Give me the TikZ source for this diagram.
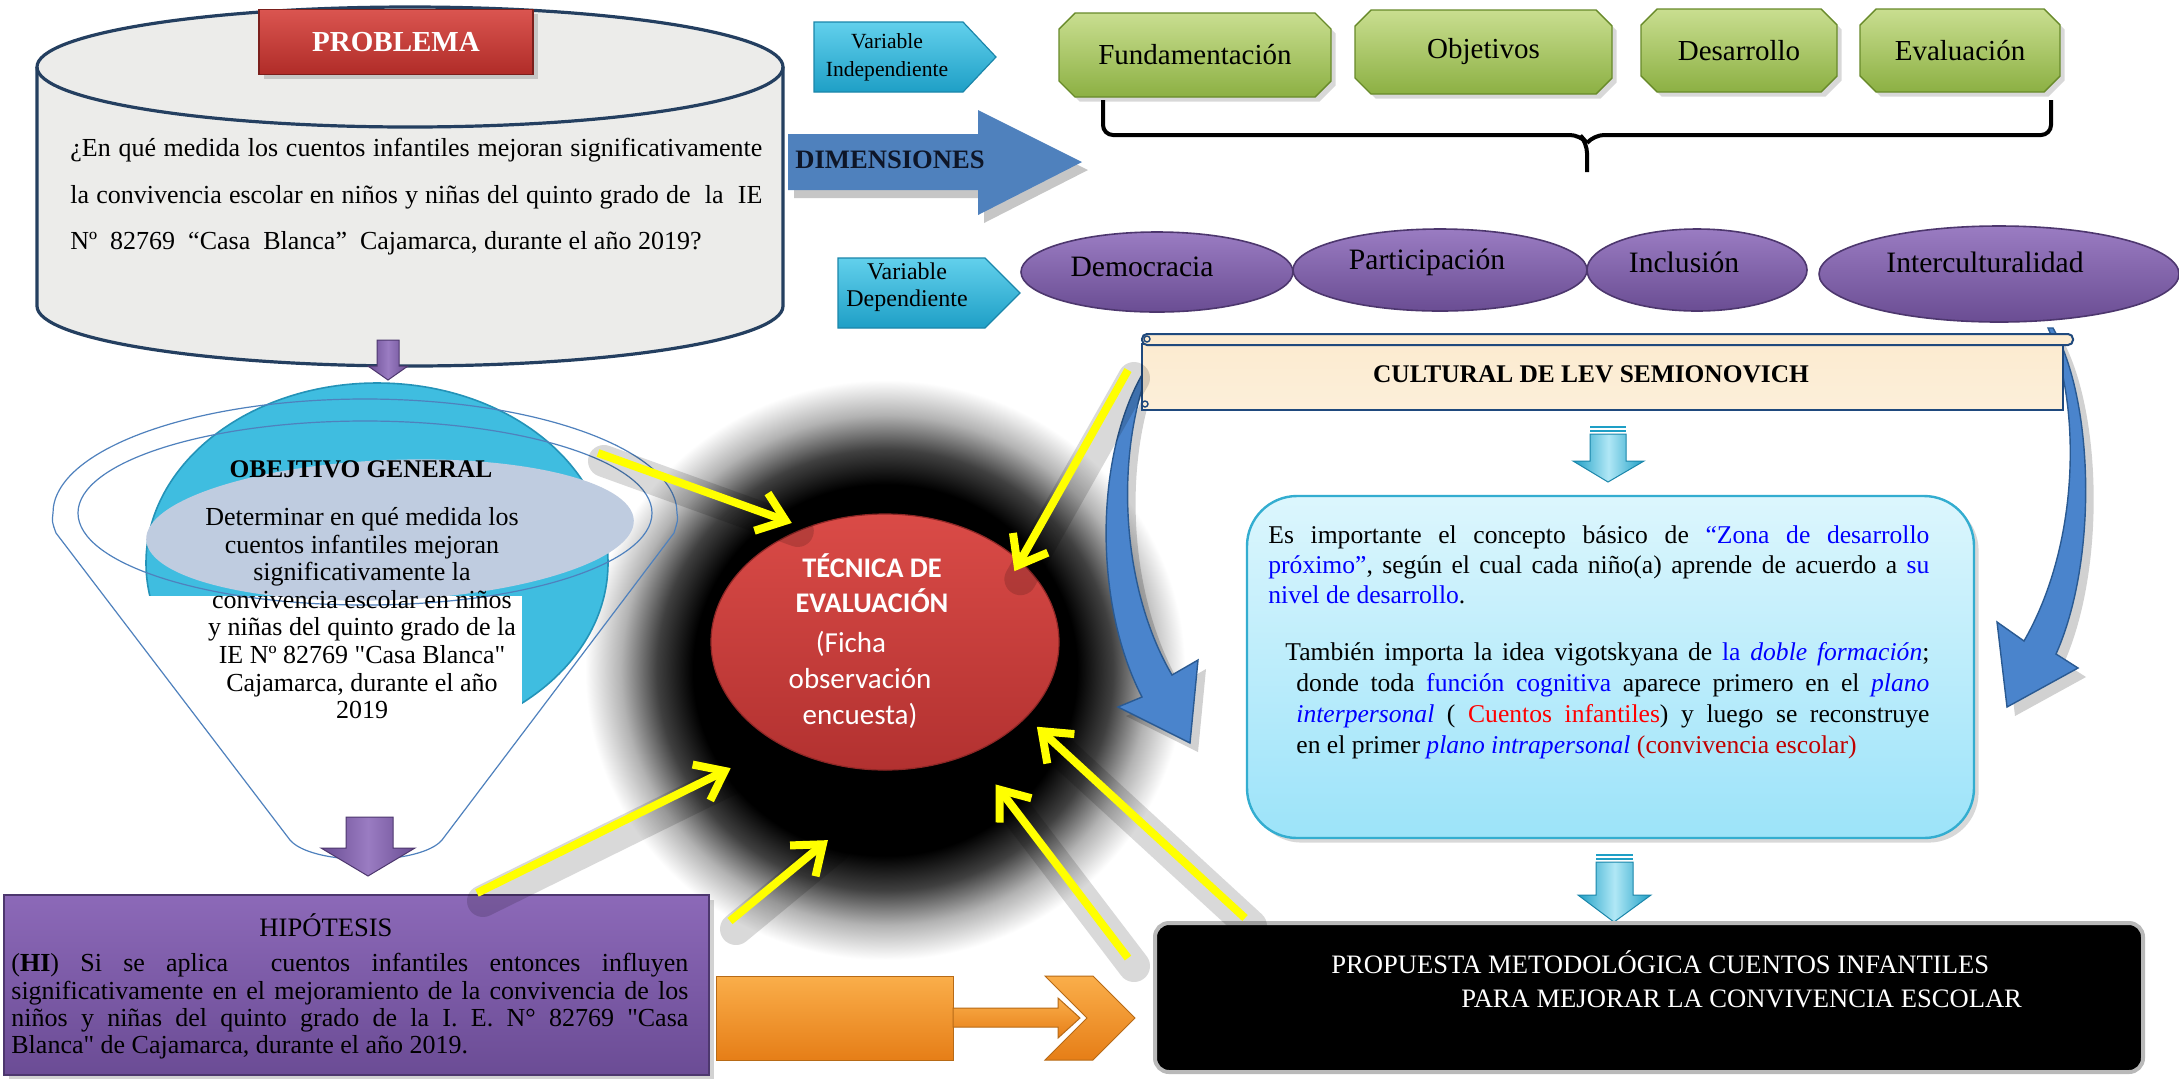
\documentclass[tikz,border=0pt]{standalone}
\usepackage{fontspec}
\setmainfont{Liberation Serif}[Ligatures=TeXOff]
\newfontfamily\calibri{Carlito}
\usetikzlibrary{arrows.meta,shapes.geometric,shapes.misc,shadows}
\definecolor{cylborder}{HTML}{243F60}
\definecolor{cylfill}{HTML}{ECECEA}
\definecolor{probtop}{HTML}{DA5550}
\definecolor{probbot}{HTML}{B02C28}
\definecolor{cyantop}{HTML}{62D0EC}
\definecolor{cyanbot}{HTML}{1E9FC6}
\definecolor{cyanedge}{HTML}{1B86AA}
\definecolor{greentop}{HTML}{C9DE90}
\definecolor{greenbot}{HTML}{8CB043}
\definecolor{greenedge}{HTML}{688A2A}
\definecolor{purptop}{HTML}{9A7CC2}
\definecolor{purpbot}{HTML}{6A4D93}
\definecolor{purpedge}{HTML}{4D376E}
\definecolor{dimblue}{HTML}{4F81BD}
\definecolor{dimtxt}{HTML}{0E1628}
\definecolor{arrblue}{HTML}{4A84CC}
\definecolor{arrbluedge}{HTML}{2A5A92}
\definecolor{scrollfill}{HTML}{FCEBD0}
\definecolor{scrolledge}{HTML}{1F497D}
\definecolor{boxtop}{HTML}{DCF6FD}
\definecolor{boxbot}{HTML}{9CE3F9}
\definecolor{boxedge}{HTML}{33ADD0}
\definecolor{orangetop}{HTML}{FAAE4A}
\definecolor{orangebot}{HTML}{E67E17}
\definecolor{orangeedge}{HTML}{B76A16}
\definecolor{tectop}{HTML}{DA4B47}
\definecolor{tecbot}{HTML}{B23130}
\definecolor{objblue}{HTML}{3FBDE0}
\definecolor{objblueedge}{HTML}{2493B8}
\definecolor{objgray}{HTML}{BFCCE0}
\definecolor{funnelline}{HTML}{4F81BD}
\definecolor{ylw}{HTML}{FFFF00}
\definecolor{darkred}{HTML}{C00000}
\definecolor{hyptop}{HTML}{8C69B8}
\definecolor{hypbot}{HTML}{6B4C95}
\pgfdeclareradialshading{glow}{\pgfpoint{0bp}{0bp}}{color(0bp)=(black); color(16bp)=(black); color(19bp)=(black!75); color(22bp)=(black!30); color(25bp)=(white); color(50bp)=(white)}
\newcommand\fsz[2]{\fontsize{#1}{#2}\selectfont}
\tikzset{
  cylline/.style={draw=cylborder, line width=1.6pt},
  probbox/.style={top color=probtop, bottom color=probbot, draw=probbot!70!black, line width=0.6pt, minimum width=137pt, minimum height=32.5pt, inner sep=0, text=white, font=\bfseries\fsz{14.5}{17}, drop shadow={opacity=0.35}},
  varbox/.style={top color=cyantop, bottom color=cyanbot, draw=cyanedge, line width=0.6pt},
  greenbox/.style={chamfered rectangle, chamfered rectangle xsep=4pt, chamfered rectangle ysep=4pt, top color=greentop, bottom color=greenbot, draw=greenedge, line width=0.7pt, inner sep=0, font=\fsz{14.5}{17}, drop shadow={opacity=0.3}},
  purpell/.style={ellipse, top color=purptop, bottom color=purpbot, draw=purpedge, line width=0.8pt, inner sep=0},
  elltext/.style={font=\fsz{14.8}{17}, inner sep=0},
  purpblock/.style={left color=purpbot, right color=purpbot, middle color=purptop, draw=purpedge, line width=0.5pt},
  cyanblock/.style={left color=cyanbot, right color=cyanbot, middle color=cyantop!50!white, draw=cyanedge, line width=0.5pt},
  blockblue/.style={fill=arrblue, draw=arrbluedge, line width=0.7pt},
  blueshadow/.style={fill=black, opacity=0.18},
  yarrow/.style={draw=ylw, line width=4pt, -{Straight Barb[length=13pt,width=20pt,line width=4pt]}},
  yshadow/.style={draw=black, line width=16pt, opacity=0.15, line cap=round},
}
\begin{document}
\frenchspacing
\begin{tikzpicture}[x=0.5pt,y=-0.5pt]
\useasboundingbox (0,0) rectangle (2179,1078);
\fill[white] (0,0) rectangle (2179,1078);

% dark glow behind the technique ellipse
\shade[shading=glow] (885,670) ellipse[x radius=300,y radius=290];

% ---------- PROBLEMA cylinder
\fill[cylfill] (37,67) -- (37,306) arc[start angle=180,end angle=0,x radius=373,y radius=60] -- (783,67) arc[start angle=0,end angle=-180,x radius=373,y radius=60] -- cycle;
\draw[cylline] (37,67) -- (37,306) arc[start angle=180,end angle=0,x radius=373,y radius=60] -- (783,67);
\draw[cylline] (410,67) ellipse[x radius=373,y radius=60];
\node[probbox] (problema) at (396,42) {PROBLEMA};
\node[anchor=north west, text width=346pt, align=justify, inner sep=0, font=\fsz{13}{23.3}] (pregunta) at (70,138)
 {¿En qué medida los cuentos infantiles mejoran significativamente\linebreak la convivencia escolar en niños y niñas del quinto grado de\ \ la\ \ IE\linebreak Nº\ \ 82769\ \ “Casa\ \ Blanca”\ \ Cajamarca, durante el año 2019?};

% ---------- OBJETIVO funnel
\fill[objblue] (377,563) ellipse[x radius=231,y radius=180];
\draw[objblueedge, line width=0.8pt] (377,563) ellipse[x radius=231,y radius=180];
\fill[white] (128,596) rectangle (522,765);
\fill[objgray, rotate around={2.3:(390,530)}] (390,530) ellipse[x radius=244,y radius=70];
\draw[funnelline, line width=0.6pt] (53,513) arc[start angle=180,end angle=360,x radius=312,y radius=114] .. controls (678,520) .. (674,533) -- (442,840) .. controls (420,866) and (312,866) .. (290,840) -- (56,533) .. controls (52,522) .. (53,513) -- cycle;
\draw[funnelline, line width=0.6pt] (365,513) ellipse[x radius=287,y radius=92];
\node[font=\bfseries\fsz{12.7}{15}, inner sep=0] (objtitle) at (361,469) {OBEJTIVO GENERAL};
\node[anchor=north, align=center, inner sep=0, font=\fsz{13}{13.8}] (objtext) at (362,507)
 {Determinar en qué medida los\\cuentos infantiles mejoran\\significativamente la\\convivencia escolar en niños\\y niñas del quinto grado de la\\IE Nº 82769 "Casa Blanca"\\Cajamarca, durante el año\\2019};

% purple block arrows
\shadedraw[purpblock] (377,340) -- (399,340) -- (399,366) -- (408,366) -- (388,380) -- (368,366) -- (377,366) -- cycle;
\shadedraw[purpblock] (346,817) -- (393,817) -- (393,848) -- (415,848) -- (368,876) -- (321,848) -- (346,848) -- cycle;

% ---------- HIPOTESIS
\node[top color=hyptop, bottom color=hypbot, draw=purpedge, line width=0.6pt, minimum width=352.5pt, minimum height=90pt, inner sep=0, drop shadow={opacity=0.35}] (hipbox) at (356.5,985) {};
\node[font=\fsz{13.3}{15}, inner sep=0] (hiptitle) at (326,925) {HIPÓTESIS};
\node[anchor=north west, text width=338.5pt, align=justify, inner sep=0, font=\fsz{13}{13.65}] (hiptext) at (11,953)
 {(\textbf{HI}) Si se aplica\ \ cuentos infantiles entonces influyen\linebreak significativamente en el mejoramiento de la convivencia de los\linebreak niños y niñas del quinto grado de la I. E. N° 82769 "Casa\linebreak Blanca" de Cajamarca, durante el año 2019.};

% orange arrow
\shadedraw[top color=orangetop, bottom color=orangebot, draw=orangeedge, line width=0.5pt] (716,976) rectangle (953,1060);
\shadedraw[top color=orangetop, bottom color=orangebot, draw=orangeedge, line width=0.5pt] (953,1008) -- (1058,1008) -- (1058,998) -- (1080,1018) -- (1058,1038) -- (1058,1027) -- (953,1027) -- cycle;
\shadedraw[top color=orangetop, bottom color=orangebot, draw=orangeedge, line width=0.5pt] (1045,976) -- (1093,976) -- (1135,1018) -- (1093,1060) -- (1045,1060) -- (1087,1018) -- cycle;

% ---------- DIMENSIONES arrow
\begin{scope}[shift={(6,8)}]
\fill[gray!45] (788,134) -- (978,134) -- (978,110) -- (1082,162) -- (978,215) -- (978,190) -- (788,190) -- cycle;
\end{scope}
\fill[dimblue] (788,134) -- (978,134) -- (978,110) -- (1082,162) -- (978,215) -- (978,190) -- (788,190) -- cycle;
\node[font=\bfseries\fsz{13.3}{15}, text=dimtxt, inner sep=0] (dimensiones) at (890,160) {DIMENSIONES};

% variable arrows
\shadedraw[varbox] (814,22) -- (963,22) -- (996,57) -- (963,92) -- (814,92) -- cycle;
\node[align=center, inner sep=0, font=\fsz{10.8}{14}] (varind) at (887,57) {Variable\\Independiente};
\shadedraw[varbox] (838,258) -- (985,258) -- (1020,293) -- (985,328) -- (838,328) -- cycle;
\node[align=center, inner sep=0, font=\fsz{12}{13.5}] (vardep) at (907,287) {Variable\\Dependiente};

% green dimension boxes
\node[greenbox, minimum width=136pt, minimum height=42pt] (fund) at (1195,55) {Fundamentación};
\node[greenbox, minimum width=128.5pt, minimum height=42pt] (objet) at (1483.5,52) {Objetivos};
\node[greenbox, minimum width=98pt, minimum height=41.5pt] (desar) at (1739,50.5) {Desarrollo};
\node[greenbox, minimum width=100pt, minimum height=41.5pt] (evalu) at (1960,50.5) {Evaluación};

% brace
\draw[line width=2pt, rounded corners=5pt] (1103,100) |- (1580,135) -- (1587,143) -- (1587,172);
\draw[line width=2pt, rounded corners=5pt] (2051,100) |- (1594,135) -- (1587,143);

% purple ellipses
\node[purpell, minimum width=136pt, minimum height=40pt] (democ) at (1157,272) {};
\node[purpell, minimum width=147pt, minimum height=41pt] (partic) at (1440,270) {};
\node[purpell, minimum width=110pt, minimum height=41pt] (inclu) at (1697,270) {};
\node[purpell, minimum width=180pt, minimum height=48pt] (intercult) at (1999,274) {};
\node[elltext] (tdemoc) at (1142,267) {Democracia};
\node[elltext] (tpartic) at (1427,262) {Participación};
\node[elltext] (tinclu) at (1684,262) {Inclusión};
\node[elltext] (tinter) at (1985,262) {Interculturalidad};

% ---------- blue curved arrows (shadows first)
\begin{scope}[shift={(8,9)}]
\fill[blueshadow] (1146,368) .. controls (1095,450) and (1092,600) .. (1142,697) -- (1118,707) -- (1190,743) -- (1198,660) -- (1172,675) .. controls (1122,590) and (1114,460) .. (1149,368) -- cycle;
\fill[blueshadow] (2048,328) .. controls (2080,400) and (2082,540) .. (2024,641) -- (1997,622) -- (2007,707) -- (2078,668) -- (2056,654) .. controls (2098,560) and (2094,400) .. (2053,328) -- cycle;
\end{scope}
\filldraw[blockblue] (1146,368) .. controls (1095,450) and (1092,600) .. (1142,697) -- (1118,707) -- (1190,743) -- (1198,660) -- (1172,675) .. controls (1122,590) and (1114,460) .. (1149,368) -- cycle;
\filldraw[blockblue] (2048,328) .. controls (2080,400) and (2082,540) .. (2024,641) -- (1997,622) -- (2007,707) -- (2078,668) -- (2056,654) .. controls (2098,560) and (2094,400) .. (2053,328) -- cycle;

% ---------- scroll banner
\node[top color=scrollfill, bottom color=scrollfill!80!white, draw=scrolledge, line width=1pt, minimum width=460.5pt, minimum height=33pt, inner sep=0] (banner) at (1602.5,377) {};
\draw[scrolledge, fill=scrollfill, line width=1pt, rounded corners=2.5pt] (1142,334) rectangle (2073,345);
\draw[scrolledge, line width=0.7pt] (1147,339) circle[radius=3];
\draw[scrolledge, line width=0.7pt] (1145,404) circle[radius=3];
\node[font=\bfseries\fsz{12.7}{15}, inner sep=0] (cultural) at (1591,374) {CULTURAL DE LEV SEMIONOVICH};

% small cyan arrow
\fill[cyanbot] (1590,426) rectangle (1626,428);
\fill[cyanbot] (1590,430) rectangle (1626,432);
\shadedraw[cyanblock] (1590,434) -- (1626,434) -- (1626,461) -- (1644,461) -- (1608,482) -- (1573,461) -- (1590,461) -- cycle;

% ---------- theory box
\node[top color=boxtop, bottom color=boxbot, draw=boxedge, line width=1.2pt, rounded corners=25pt, minimum width=363.5pt, minimum height=171pt, inner sep=0, drop shadow={opacity=0.3}] (teoria) at (1610.5,667) {};
\node[anchor=north west, text width=330.5pt, align=justify, inner sep=0, font=\fsz{12.8}{15}] (teoria1) at (1268,525)
 {Es importante el concepto básico de {\color{blue}“Zona de desarrollo}\linebreak {\color{blue}próximo”}, según el cual cada niño(a) aprende de acuerdo a {\color{blue}su}\linebreak {\color{blue}nivel de desarrollo}.};
\node[anchor=north west, text width=316.5pt, align=justify, inner sep=0, font=\fsz{12.8}{15.5}] (teoria2) at (1296,642)
 {\hspace*{-5.5pt}También importa la idea vigotskyana de {\color{blue}la \textit{doble formación}};\linebreak donde toda {\color{blue}función cognitiva} aparece primero en el {\color{blue}\textit{plano}}\linebreak {\color{blue}\textit{interpersonal}} ( {\color{red}Cuentos infantiles}) y luego se reconstruye\linebreak en el primer {\color{blue}\textit{plano intrapersonal}} {\color{darkred}(convivencia escolar)}};

% small cyan arrow 2
\fill[cyanbot] (1596,854) rectangle (1633,856);
\fill[cyanbot] (1596,858) rectangle (1633,860);
\shadedraw[cyanblock] (1596,862) -- (1633,862) -- (1633,895) -- (1651,895) -- (1614,922) -- (1578,895) -- (1596,895) -- cycle;

% ---------- black proposal box
\node[fill=black, draw=gray!55, line width=2pt, rounded corners=7pt, minimum width=494pt, minimum height=74.5pt, inner sep=0] (propuesta) at (1649,997.5) {};
\node[anchor=north west, align=left, text=white, inner sep=0, font=\fsz{13.3}{17}] (propuestatxt) at (1331,950)
 {PROPUESTA METODOLÓGICA CUENTOS INFANTILES\\\hspace*{65pt}PARA MEJORAR LA CONVIVENCIA ESCOLAR};

% ---------- technique ellipse
\node[ellipse, minimum width=174pt, minimum height=128pt, inner sep=0, top color=tectop, bottom color=tecbot, draw=tecbot!80!black, line width=0.6pt] (tec) at (885,642) {};
\node[font=\calibri\bfseries\fsz{14.2}{17.5}, text=white, align=center, inner sep=0] (tectitle) at (872,583) {TÉCNICA DE\\EVALUACIÓN};
\node[font=\calibri\fsz{14.5}{18}, text=white, align=center, inner sep=0] (tecsub) at (860,680) {\hspace*{-9pt}(Ficha\\observación\\encuesta)};

% ---------- yellow arrows
\coordinate (ya) at (598,453);
\coordinate (yb) at (1128,370);
\coordinate (yc) at (477,893);
\coordinate (yd) at (730,921);
\coordinate (ye) at (1128,958);
\coordinate (yf) at (1245,918);
\foreach \t/\a/\s in {ya/125/7pt, yb/31/-6pt, yc/224/27pt, yd/283/56pt, ye/308/19.5pt, yf/332/7pt}
  {\draw[yshadow, shorten >=\s, transform canvas={shift={(3pt,-4pt)}}] (\t) -- (tec.\a);}
\foreach \t/\a/\s in {ya/125/7pt, yb/31/-6pt, yc/224/27pt, yd/283/56pt, ye/308/19.5pt, yf/332/7pt}
  {\draw[yarrow, shorten >=\s] (\t) -- (tec.\a);}
\end{tikzpicture}
\end{document}
